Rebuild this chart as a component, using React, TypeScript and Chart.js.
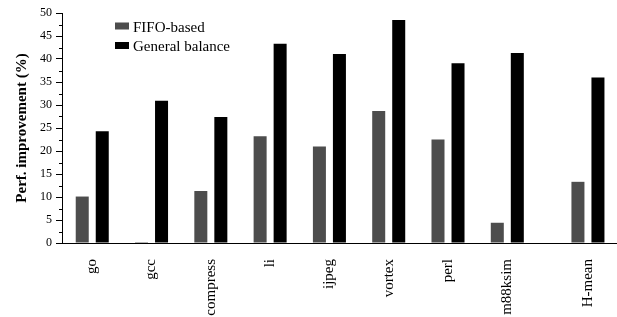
import React, { useEffect, useRef } from "react";
import { Chart, registerables } from "chart.js";

Chart.register(...registerables);

const categories = ["go", "gcc", "compress", "li", "ijpeg", "vortex", "perl", "m88ksim", "H-mean"];
const positions = [1, 2, 3, 4, 5, 6, 7, 8, 9.36];
const fifoBased = [10.1, 0.2, 11.3, 23.2, 21.0, 28.7, 22.5, 4.4, 13.3];
const generalBalance = [24.3, 30.9, 27.4, 43.3, 41.1, 48.5, 39.1, 41.3, 36.0];
const seriesNames = ["FIFO-based", "General balance"];
const yMax = 50;
const yStep = 5;

const FONT = "'Liberation Serif', 'Times New Roman', serif";

const minorTicks = {
  id: "minorTicks",
  afterDraw(chart: any) {
    const y = chart.scales.y;
    const ctx = chart.ctx;
    ctx.save();
    ctx.strokeStyle = "#000";
    ctx.lineWidth = 1;
    for (let v = yStep / 2; v < yMax; v += yStep) {
      const py = Math.round(y.getPixelForValue(v)) + 0.5;
      ctx.beginPath();
      ctx.moveTo(y.right - 3, py);
      ctx.lineTo(y.right, py);
      ctx.stroke();
    }
    ctx.restore();
  },
};

const customLegend = {
  id: "customLegend",
  afterDraw(chart: any) {
    const ctx = chart.ctx;
    const area = chart.chartArea;
    const x0 = area.left + 53;
    const rows = [area.top + 18.5, area.top + 38];
    ctx.save();
    ctx.font = `15px ${FONT}`;
    ctx.textBaseline = "alphabetic";
    ctx.textAlign = "left";
    chart.data.datasets.forEach((ds: any, i: number) => {
      const base = rows[i];
      ctx.fillStyle = ds.backgroundColor;
      ctx.fillRect(x0, base - 9, 14, 7);
      ctx.fillStyle = "#000";
      ctx.fillText(ds.label, x0 + 18, base);
    });
    ctx.restore();
  },
};

export default function App() {
  const ref = useRef<HTMLCanvasElement | null>(null);

  useEffect(() => {
    if (!ref.current) return;
    const chart = new Chart(ref.current, {
      type: "bar",
      data: {
        datasets: [
          {
            label: seriesNames[0],
            data: positions.map((p, i) => ({ x: p, y: fifoBased[i] })),
            backgroundColor: "#4d4d4d",
            categoryPercentage: 0.675,
            barPercentage: 0.65,
          },
          {
            label: seriesNames[1],
            data: positions.map((p, i) => ({ x: p, y: generalBalance[i] })),
            backgroundColor: "#000000",
            categoryPercentage: 0.675,
            barPercentage: 0.65,
          },
        ],
      },
      options: {
        animation: false,
        responsive: false,
        devicePixelRatio: 1,
        layout: { padding: { top: 13, right: 0, left: 0, bottom: 0 } },
        plugins: {
          legend: { display: false },
          tooltip: { enabled: false },
        },
        scales: {
          x: {
            type: "linear",
            offset: false,
            min: 0.49,
            max: 9.85,
            afterBuildTicks: (scale: any) => {
              scale.ticks = positions.map((v) => ({ value: v }));
            },
            afterFit: (scale: any) => {
              scale.height = 74;
              scale.paddingRight = 0;
              scale.paddingLeft = 0;
            },
            grid: { display: false, drawTicks: false, offset: false },
            border: { display: true, color: "#000", width: 1 },
            ticks: {
              autoSkip: false,
              minRotation: 90,
              maxRotation: 90,
              padding: 16,
              color: "#000",
              font: { family: FONT, size: 15 },
              callback: (_v: any, i: number) => categories[i],
            },
          },
          y: {
            min: 0,
            max: yMax,
            afterFit: (scale: any) => {
              scale.width = 62;
            },
            grid: {
              drawOnChartArea: false,
              drawTicks: true,
              tickLength: 6,
              tickColor: "#000",
            },
            border: { display: true, color: "#000", width: 1 },
            ticks: {
              stepSize: yStep,
              padding: 4,
              color: "#000",
              font: { family: FONT, size: 12 },
            },
            title: {
              display: true,
              text: "Perf. improvement (%)",
              color: "#000",
              font: { family: FONT, size: 15, weight: "bold" },
              padding: { top: 13, bottom: 0 },
            },
          },
        },
      },
      plugins: [minorTicks, customLegend],
    });
    return () => chart.destroy();
  }, []);

  return (
    <div style={{ position: "absolute", left: 0, top: 0, width: 617, height: 317, background: "#fff" }}>
      <canvas ref={ref} width={617} height={317} style={{ display: "block" }} />
    </div>
  );
}
